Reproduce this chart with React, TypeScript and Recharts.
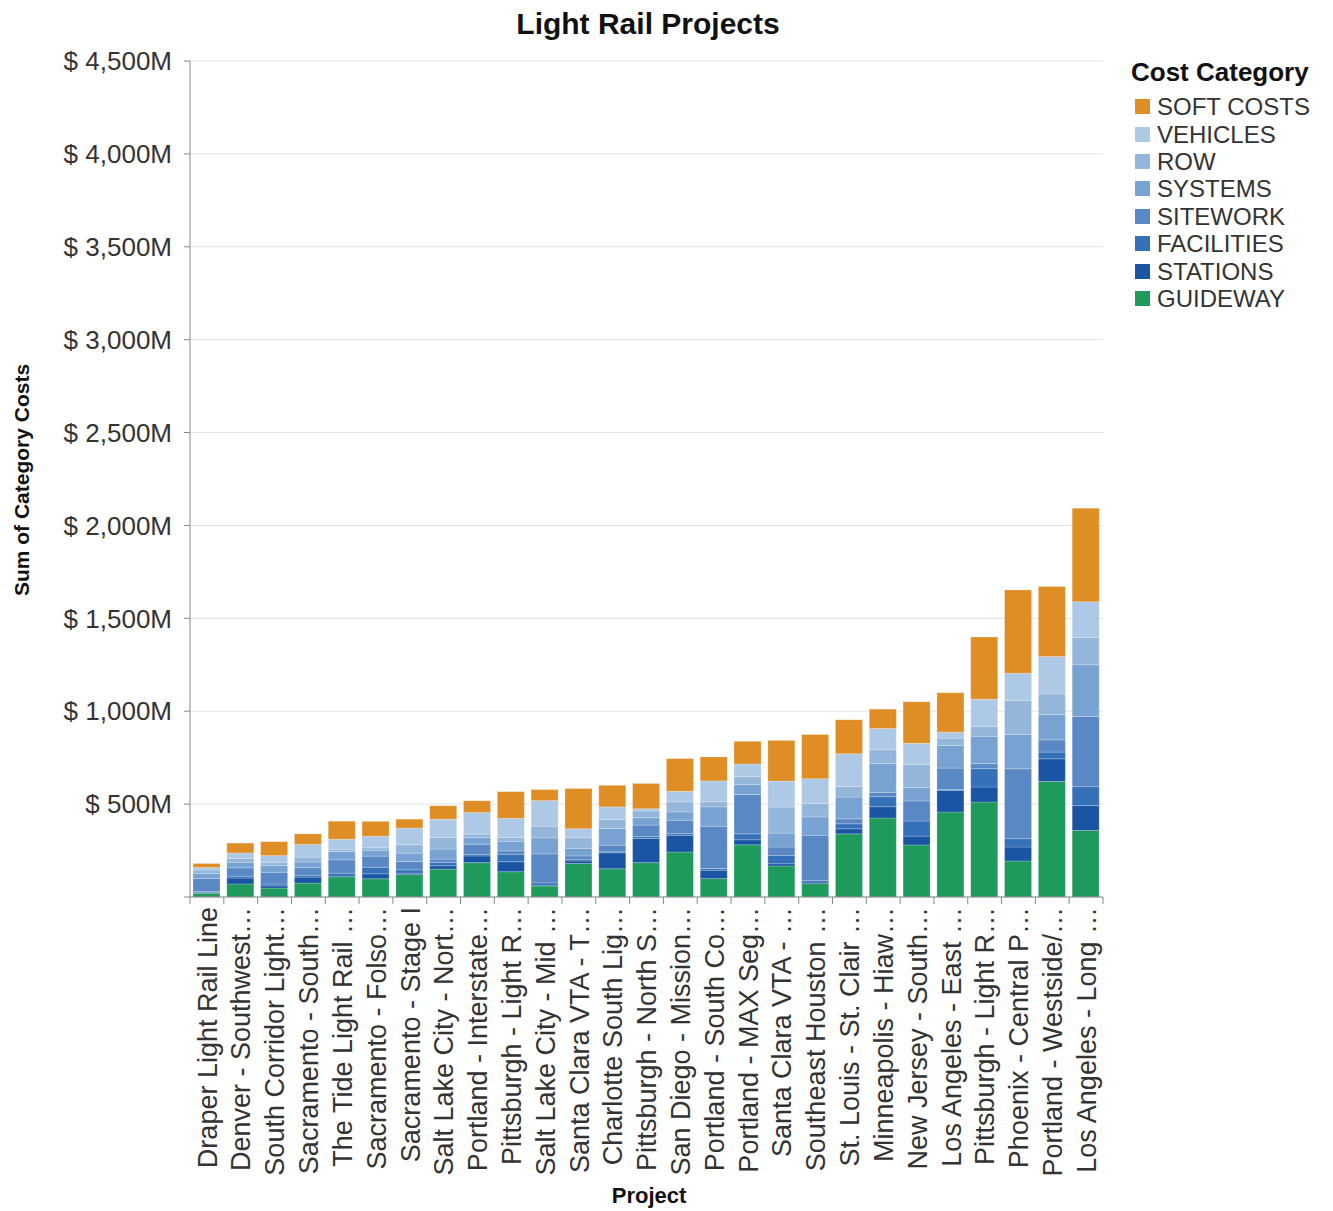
import React from 'react';
import { BarChart, Bar, XAxis, YAxis, CartesianGrid } from 'recharts';

const projects = [
  'Draper Light Rail Line',
  'Denver - Southwest…',
  'South Corridor Light…',
  'Sacramento - South…',
  'The Tide Light Rail …',
  'Sacramento - Folso…',
  'Sacramento - Stage I',
  'Salt Lake City - Nort…',
  'Portland - Interstate…',
  'Pittsburgh - Light R…',
  'Salt Lake City - Mid …',
  'Santa Clara VTA - T…',
  'Charlotte South Lig…',
  'Pittsburgh - North S…',
  'San Diego - Mission…',
  'Portland - South Co…',
  'Portland - MAX Seg…',
  'Santa Clara VTA - …',
  'Southeast Houston …',
  'St. Louis - St. Clair …',
  'Minneapolis - Hiaw…',
  'New Jersey - South…',
  'Los Angeles - East …',
  'Pittsburgh - Light R… ',
  'Phoenix - Central P…',
  'Portland - Westside/…',
  'Los Angeles - Long …',
];

// values in $M, bottom to top of each stack
const guideway = [20, 70, 48, 75, 108, 98, 120, 150, 185, 136, 59, 180, 152, 185, 242, 99, 281, 167, 72, 340, 425, 280, 457, 511, 194, 622, 358];
const stations = [5, 32, 12, 32, 5, 27, 8, 18, 36, 54, 5, 14, 86, 130, 90, 45, 27, 12, 9, 27, 61, 48, 116, 81, 75, 122, 134];
const facilities = [5, 10, 10, 10, 15, 35, 18, 18, 9, 40, 12, 9, 5, 10, 9, 9, 32, 45, 9, 27, 54, 81, 5, 99, 45, 36, 102];
const sitework = [70, 45, 63, 41, 72, 60, 45, 18, 54, 18, 156, 18, 36, 62, 72, 228, 211, 45, 242, 27, 23, 108, 116, 27, 376, 66, 378];
const systems = [27, 30, 36, 30, 45, 32, 45, 54, 36, 52, 86, 41, 90, 40, 45, 104, 54, 75, 99, 117, 156, 72, 122, 147, 185, 136, 278];
const row = [18, 20, 18, 27, 12, 13, 45, 63, 18, 20, 63, 57, 48, 36, 54, 27, 43, 140, 72, 57, 73, 125, 39, 54, 183, 111, 147];
const vehicles = [14, 30, 36, 68, 54, 62, 90, 98, 117, 104, 138, 48, 68, 12, 57, 113, 68, 140, 134, 176, 115, 113, 32, 145, 147, 202, 192];
const softCosts = [21, 53, 75, 57, 97, 80, 48, 72, 63, 143, 59, 217, 116, 136, 176, 129, 122, 219, 238, 183, 104, 224, 213, 335, 448, 376, 503];

const yTicks = [0, 500, 1000, 1500, 2000, 2500, 3000, 3500, 4000, 4500];

const series = [
  { key: 'GUIDEWAY', values: guideway, color: '#1d9a5c' },
  { key: 'STATIONS', values: stations, color: '#1a55a3' },
  { key: 'FACILITIES', values: facilities, color: '#3571b8' },
  { key: 'SITEWORK', values: sitework, color: '#5a88c5' },
  { key: 'SYSTEMS', values: systems, color: '#78a2d2' },
  { key: 'ROW', values: row, color: '#93b6da' },
  { key: 'VEHICLES', values: vehicles, color: '#aec9e6' },
  { key: 'SOFT COSTS', values: softCosts, color: '#df8e26' },
];

const data = projects.map((p, i) => {
  const d: Record<string, any> = { project: p };
  series.forEach((s) => (d[s.key] = s.values[i]));
  return d;
});

const FONT = '"Liberation Sans", Arial, sans-serif';

const fmt = (v: number) => {
  if (v === 0) return '';
  const s = String(v);
  const withComma = s.length > 3 ? s.slice(0, s.length - 3) + ',' + s.slice(s.length - 3) : s;
  return `$ ${withComma}M`;
};

const XTick = (props: any) => {
  const { x, y, payload, index, visibleTicksCount } = props;
  const off = payload && payload.offset ? payload.offset : 0;
  const axisY = y - 10;
  const isLast = index === (visibleTicksCount ? visibleTicksCount - 1 : projects.length - 1);
  return (
    <g>
      <line x1={x - off} x2={x - off} y1={axisY} y2={axisY + 7} stroke="#888" strokeWidth={1} />
      {isLast && <line x1={x + off} x2={x + off} y1={axisY} y2={axisY + 7} stroke="#888" strokeWidth={1} />}
      <text
        x={x}
        y={y}
        transform={`rotate(-90 ${x} ${y})`}
        textAnchor="end"
        dy="0.36em"
        fontSize={27}
        fontFamily={FONT}
        fill="#333"
      >
        {payload.value}
      </text>
    </g>
  );
};

const LegendBlock = () => (
  <div style={{ position: 'absolute', left: 1131, top: 57, width: 202, fontFamily: FONT }}>
    <div style={{ fontWeight: 'bold', fontSize: 26, color: '#111', lineHeight: '31px', marginBottom: 5 }}>
      Cost Category
    </div>
    {[...series].reverse().map((s) => (
      <div key={s.key} style={{ display: 'flex', alignItems: 'center', height: 27.4 }}>
        <div style={{ width: 15, height: 15, background: s.color, marginLeft: 4, marginRight: 7 }} />
        <span style={{ fontSize: 24, color: '#333', lineHeight: '27px', whiteSpace: 'nowrap' }}>{s.key}</span>
      </div>
    ))}
  </div>
);

export default function App() {
  return (
    <div style={{ position: 'absolute', left: 0, top: 0, width: 1333, height: 1211, background: '#fff', fontFamily: FONT }}>
      <BarChart
        width={1333}
        height={1211}
        data={data}
        margin={{ top: 61, right: 230, bottom: 0, left: 0 }}
        barSize={27}
      >
        <CartesianGrid horizontal vertical={false} stroke="#e3e3e3" />
        <XAxis
          dataKey="project"
          height={314}
          interval={0}
          tick={<XTick />}
          tickLine={false}
          tickSize={6}
          tickMargin={4}
          axisLine={{ stroke: '#888' }}
        />
        <YAxis
          width={190}
          domain={[0, 4500]}
          ticks={yTicks}
          tickFormatter={fmt}
          tick={{ fontSize: 26, fill: '#333', fontFamily: FONT }}
          tickSize={6}
          tickMargin={12}
          tickLine={{ stroke: '#888' }}
          axisLine={{ stroke: '#888' }}
        />
        <YAxis
          yAxisId="frame"
          orientation="right"
          width={0}
          domain={[0, 4500]}
          tick={false}
          tickLine={false}
          axisLine={{ stroke: '#e3e3e3' }}
        />
        {series.map((s) => (
          <Bar
            key={s.key}
            dataKey={s.key}
            stackId="a"
            fill={s.color}
            stroke="#ffffff"
            strokeOpacity={0.35}
            strokeWidth={0.6}
            isAnimationActive={false}
          />
        ))}
      </BarChart>
      <LegendBlock />
      <div style={{ position: 'absolute', left: 648, top: 24, transform: 'translate(-50%, -50%)', fontWeight: 'bold', fontSize: 30, color: '#111', whiteSpace: 'nowrap' }}>
        Light Rail Projects
      </div>
      <div style={{ position: 'absolute', left: 22, top: 480, transform: 'translate(-50%, -50%) rotate(-90deg)', fontWeight: 'bold', fontSize: 21, color: '#111', whiteSpace: 'nowrap' }}>
        Sum of Category Costs
      </div>
      <div style={{ position: 'absolute', left: 649, top: 1196, transform: 'translate(-50%, -50%)', fontWeight: 'bold', fontSize: 22, color: '#111', whiteSpace: 'nowrap' }}>
        Project
      </div>
    </div>
  );
}
